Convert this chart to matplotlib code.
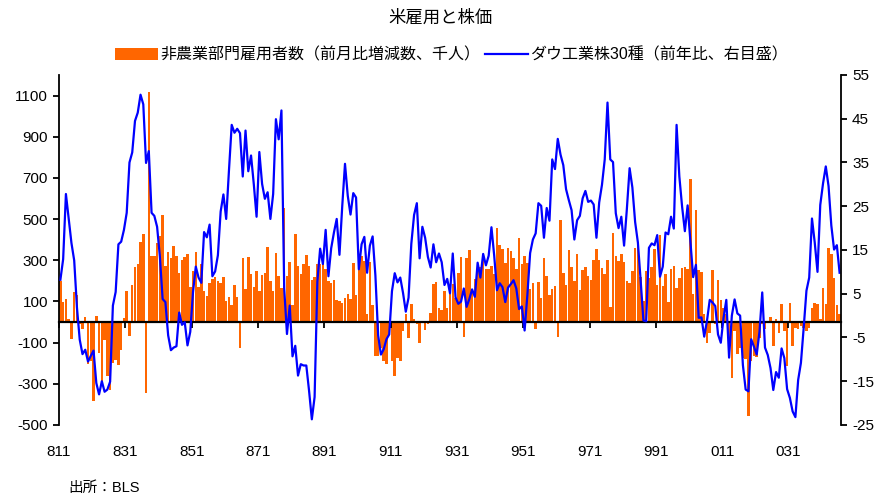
import matplotlib
matplotlib.use("Agg")
import matplotlib.pyplot as plt
from matplotlib.patches import Patch
from matplotlib.lines import Line2D
import numpy as np

plt.rcParams['font.family'] = ['Liberation Sans', 'Noto Sans CJK JP', 'DejaVu Sans']
plt.rcParams['axes.unicode_minus'] = False

# ----------------------------------------------------------------------------------------------
# Data: monthly, Jan 1981 - Jul 2004
# ----------------------------------------------------------------------------------------------
# Nonfarm payrolls, change from previous month (thousands)
payrolls_1981 = [200, 95, 113, 16, -80, 147, 130, -10, -35, 26, -205, -190]
payrolls_1982 = [-385, 30, -150, -290, -85, -260, -330, -200, -185, -210, -135, 20]
payrolls_1983 = [150, -70, 180, 265, 280, 390, 430, -345, 1115, 320, 320, 385]
payrolls_1984 = [420, 520, 270, 340, 310, 370, 320, 240, 300, 315, 330, 170]
payrolls_1985 = [250, 340, 170, 280, 150, 125, 190, 210, 220, 200, 190, 220]
payrolls_1986 = [100, 120, 85, 180, 120, -125, 310, 160, 315, 235, 170, 250]
payrolls_1987 = [150, 230, 236, 366, 200, 150, 337, 223, 167, 555, 223, 290]
payrolls_1988 = [83, 430, 270, 232, 280, 325, 272, 202, 218, 280, 283, 304]
payrolls_1989 = [260, 200, 190, 202, 105, 102, 94, 118, 135, 113, 285, 130]
payrolls_1990 = [256, 320, 296, 40, 293, 83, -165, -165, -125, -190, -205, -60]
payrolls_1991 = [-190, -262, -173, -190, -44, 40, -76, 86, 13, -11, -100, 2]
payrolls_1992 = [-39, -8, 45, 186, 196, 66, 57, 150, 66, 134, 183, 118]
payrolls_1993 = [240, 316, -71, 313, 348, 159, 207, 248, 267, 329, 260, 260]
payrolls_1994 = [272, 235, 455, 372, 353, 288, 358, 345, 312, 260, 410, 280]
payrolls_1995 = [320, 288, 162, 188, -36, 196, 118, 312, 223, 130, 159, 176]
payrolls_1996 = [-71, 494, 240, 180, 348, 267, 199, 329, 154, 251, 267, 223]
payrolls_1997 = [204, 300, 353, 300, 264, 232, 300, 74, 434, 320, 296, 329]
payrolls_1998 = [293, 199, 188, 248, 358, 380, 220, 102, 248, 215, 267, 353]
payrolls_1999 = [180, 423, 175, 232, 99, 256, 272, 164, 212, 264, 267, 256]
payrolls_2000 = [696, 134, 542, 251, 245, 40, -100, -52, 251, -11, 202, 105]
payrolls_2001 = [66, 40, -176, -274, -44, -154, -125, -176, -181, -456, -190, -165]
payrolls_2002 = [-170, -76, -8, -36, 5, 24, -117, 13, -52, 86, -44, -214]
payrolls_2003 = [94, -117, -28, -36, -19, -28, -44, -28, 66, 91, 86, 13]
payrolls_2004 = [164, 86, 358, 329, 212, 83, 37]

# Dow Jones Industrial Average, year-on-year change (%)
dow_1981 = [8.2, 12.9, 27.8, 22.1, 16.6, 12.6, 1.8, -5.5, -8.8, -7.8, -10.5, -9.2]
dow_1982 = [-8.0, -15.4, -18.0, -15.0, -17.4, -16.9, -15.1, 2.3, 5.4, 16.3, 16.9, 19.6]
dow_1983 = [23.5, 35.0, 37.3, 44.5, 46.4, 50.5, 48.3, 34.9, 37.6, 23.5, 22.8, 20.3]
dow_1984 = [13.5, 3.8, 3.1, -4.5, -7.9, -7.3, -7.0, 0.7, -2.1, -1.5, -6.8, -3.7]
dow_1985 = [5.4, 11.2, 8.7, 7.5, 19.1, 17.9, 20.8, 9.0, 10.1, 13.8, 23.8, 27.7]
dow_1986 = [22.1, 33.1, 43.6, 41.8, 42.7, 41.7, 31.8, 42.3, 33.0, 36.6, 30.0, 22.6]
dow_1987 = [37.4, 30.1, 26.7, 28.2, 22.1, 27.8, 44.9, 40.3, 46.9, 6.2, -4.2, 2.3]
dow_1988 = [-9.3, -6.9, -13.7, -11.1, -11.4, -11.4, -17.2, -23.7, -18.6, 7.8, 15.3, 11.8]
dow_1989 = [19.6, 9.0, 15.4, 19.0, 22.1, 13.9, 25.0, 34.7, 27.4, 23.1, 28.0, 27.0]
dow_1990 = [10.6, 16.3, 18.0, 9.8, 16.0, 18.1, 9.2, -4.5, -8.9, -7.7, -5.4, -4.3]
dow_1991 = [5.6, 9.7, 7.6, 8.7, 5.2, 0.9, 4.1, 16.4, 23.0, 25.7, 13.1, 20.3]
dow_1992 = [17.8, 13.4, 11.0, 16.3, 12.2, 14.2, 12.2, 7.0, 8.4, 5.1, 14.2, 4.2]
dow_1993 = [2.7, 3.2, 6.2, 2.0, 3.8, 6.0, 4.3, 12.1, 8.7, 14.1, 11.5, 13.7]
dow_1994 = [20.2, 13.7, 5.8, 7.4, 6.5, 3.1, 6.4, 7.2, 8.1, 6.2, 1.5, 2.1]
dow_1995 = [-3.4, 4.7, 14.3, 17.4, 18.8, 25.7, 25.1, 17.8, 24.6, 21.7, 35.7, 33.5]
dow_1996 = [40.4, 36.8, 34.4, 28.9, 26.4, 24.1, 17.4, 21.8, 22.8, 26.8, 28.5, 26.0]
dow_1997 = [26.3, 25.4, 17.8, 25.9, 29.9, 35.7, 48.7, 35.7, 35.1, 23.4, 20.0, 22.6]
dow_1998 = [16.0, 24.3, 33.7, 29.3, 21.4, 16.7, 8.0, -1.1, -1.3, 15.5, 16.5, 16.1]
dow_1999 = [18.4, 8.9, 11.2, 19.0, 18.6, 22.6, 19.9, 43.6, 31.8, 24.9, 19.3, 25.2]
dow_2000 = [16.9, 8.8, 11.6, -0.5, -0.4, -4.8, -1.2, 3.6, 3.0, 2.2, -4.3, -6.2]
dow_2001 = [-0.5, 3.6, -9.6, 0.0, 3.7, 0.5, 0.0, -11.3, -16.9, -17.3, -5.4, -7.1]
dow_2002 = [-8.9, -3.7, 5.3, -7.3, -9.0, -12.0, -17.0, -12.9, -14.2, -7.5, -9.7, -16.8]
dow_2003 = [-18.8, -21.9, -23.2, -14.7, -10.8, -2.8, 5.7, 8.7, 22.2, 16.7, 10.0, 25.3]
dow_2004 = [30.2, 34.1, 29.6, 20.6, 15.1, 16.1, 9.8]

tick_labels = ["811", "831", "851", "871", "891", "911", "931", "951", "971", "991", "011", "031"]

payrolls = (payrolls_1981 + payrolls_1982 + payrolls_1983 + payrolls_1984 + payrolls_1985
            + payrolls_1986 + payrolls_1987 + payrolls_1988 + payrolls_1989 + payrolls_1990
            + payrolls_1991 + payrolls_1992 + payrolls_1993 + payrolls_1994 + payrolls_1995
            + payrolls_1996 + payrolls_1997 + payrolls_1998 + payrolls_1999 + payrolls_2000
            + payrolls_2001 + payrolls_2002 + payrolls_2003 + payrolls_2004)
dow = (dow_1981 + dow_1982 + dow_1983 + dow_1984 + dow_1985 + dow_1986 + dow_1987 + dow_1988
       + dow_1989 + dow_1990 + dow_1991 + dow_1992 + dow_1993 + dow_1994 + dow_1995 + dow_1996
       + dow_1997 + dow_1998 + dow_1999 + dow_2000 + dow_2001 + dow_2002 + dow_2003 + dow_2004)

months = np.arange(len(payrolls))
tick_pos = months[::24][:len(tick_labels)] - 0.5

# ----------------------------------------------------------------------------------------------
fig = plt.figure(figsize=(8.82, 5.01), dpi=100)
ax = fig.add_axes([0.0669, 0.1517, 0.8866, 0.6986])

ax.bar(months, payrolls, width=0.9, color='#FF6600', linewidth=0)
ax.set_xlim(-0.5, len(payrolls) - 0.5)
ax.set_ylim(-500, 1200)
ax.set_yticks(range(-500, 1101, 200))

ax.spines['top'].set_visible(False)
ax.spines['right'].set_visible(False)
ax.spines['bottom'].set_position(('data', 0))
ax.spines['bottom'].set_linewidth(1.6)
ax.spines['left'].set_linewidth(1.3)
ax.set_xticks(tick_pos)
ax.tick_params(axis='x', direction='out', length=4, width=1.3, labelbottom=False)
ax.tick_params(axis='y', direction='out', length=4, width=1.3, labelsize=11, pad=4)
for p, lab in zip(tick_pos, tick_labels):
    ax.text(p, -0.077, lab, transform=ax.get_xaxis_transform(), ha='center', va='center', fontsize=11)

ax2 = ax.twinx()
ax2.plot(months, dow, color='#0000FF', lw=1.6)
ax2.set_ylim(-25, 55)
ax2.set_yticks(range(-25, 56, 10))
for s in ['top', 'bottom', 'left']:
    ax2.spines[s].set_visible(False)
ax2.spines['right'].set_linewidth(1.3)
ax2.tick_params(axis='y', direction='out', length=4, width=1.3, labelsize=11, pad=4)

fig.text(0.5, 1 - 18 / 501, '米雇用と株価', ha='center', va='center', fontsize=12.5)

handles = [Patch(facecolor='#FF6600', edgecolor='none'),
           Line2D([], [], color='#0000FF', lw=1.6)]
labels = ['非農業部門雇用者数（前月比増減数、千人）', 'ダウ工業株30種（前年比、右目盛）']
fig.legend(handles, labels, loc='center', bbox_to_anchor=(0.512, 1 - 55 / 501), ncol=2,
           frameon=False, fontsize=11.5, handlelength=2.7, handleheight=0.7,
           handletextpad=0.15, columnspacing=0.25, borderpad=0)

fig.text(68 / 882, 1 - 488 / 501, '出所：BLS', ha='left', va='center', fontsize=10.5)

fig.savefig('out.png', dpi=100)
